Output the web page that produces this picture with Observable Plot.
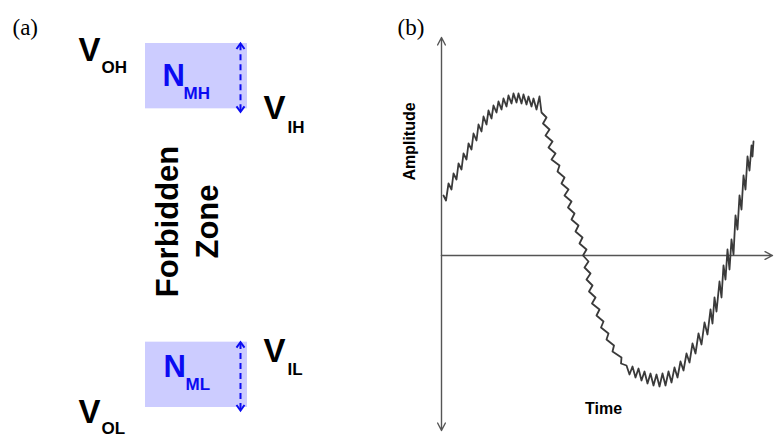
<!DOCTYPE html>
<html>
<head>
<meta charset="utf-8">
<script src="https://cdn.jsdelivr.net/npm/d3@7"></script>
<script src="https://cdn.jsdelivr.net/npm/@observablehq/plot@0.6"></script>
<style>
html, body { margin: 0; padding: 0; background: #fff; overflow: hidden; }
#fig { display: flex; width: 774px; height: 437px; }
#fig svg { display: block; flex: none; }
</style>
</head>
<body>
<div id="fig"></div>
<script>
// ---------- Panel (a): logic levels & noise margins ----------
const levelNames = ["VOH", "VIH", "VIL", "VOL"];
const levelVolts = [4.4, 3.7, 1.2, 0.5];
const levelSubscripts = ["OH", "IH", "IL", "OL"];
const marginNames = ["NMH", "NML"];
const marginSubscripts = ["MH", "ML"];
const zoneText = ["Forbidden", "Zone"];
const panelLabels = ["(a)", "(b)"];

// ---------- Panel (b): noisy sine wave, [time, amplitude] ----------
const noisySignal = [
  [2,60],[4.5,55],[7,72],[10,66],[12,82],[15,76],[17,92],[20,86],[22,102],[25,96],
  [27,112],[30,106],[32,122],[35,115],[37,131],[40,124],[42,139],[45,131],[47,145],[50,137],
  [52,150],[55,143],[57,154],[60,146],[62,157],[65,149],[67,160],[70,152],[72,162],[75,153],
  [77,162],[80,152],[82,161],[85,151],[87,159],[90,149],[92,157],[95,146],[98,159],[100,143],
  [105,138],[101.5,132],[108,126],[104,120],[111,114],[107,108],[114,102],[110,96],[118,90],[116,84],
  [123,78],[120,72],[127,66],[123,60],[130,54],[126.5,48],[133,42],[130,36],[137,30],[134,24],
  [141,18],[138,12],[145,6],[141.5,0],[147,-6],[143,-12],[149,-18],[145,-24],[151,-30],[147.5,-36],
  [154,-42],[150.5,-48],[158,-54],[155,-60],[162,-66],[159.5,-72],[167,-78],[165,-84],[172.5,-90],[171,-96],
  [180,-102],[179.5,-108],[185,-110],[188,-119],[191,-111],[194,-122],[197,-113],[200,-125],[203,-116],[206,-128],
  [209,-118],[212,-130],[215,-119],[218,-131],[221,-118],[224,-130],[227,-116],[230,-127],[233,-112],[236,-122],
  [239,-106],[242,-115],[245,-98],[248,-107],[251,-88],[254,-98],[257,-78],[260,-89],[263,-67],[266,-79],
  [269,-54],[271,-68],[273,-42],[275,-56],[278,-26],[280,-42],[282,-10],[284,-24],[286,6],[288,-14],
  [290,16],[292,1],[294,40],[296,26],[298,60],[300,46],[302,80],[304,66],[306,99],[308,85],
  [310,110],[311,99],[312,114]
];
const axisLabels = ["Time", "Amplitude"];
const timeDomain = [0, 333];
const ampDomain = [-175, 218];

// ---------- helpers ----------
const sans = "'Liberation Sans', Arial, Helvetica, sans-serif";
const serif = "'Liberation Serif', 'Times New Roman', serif";
const levelV = Object.fromEntries(levelNames.map((n, i) => [n, levelVolts[i]]));
const margins = marginNames.map((name, i) => ({
  name, sub: marginSubscripts[i],
  lo: i === 0 ? levelV.VIH : levelV.VOL,
  hi: i === 0 ? levelV.VOH : levelV.VIL
}));

// layout (pixel-column positions in panel a; not data)
const layoutA = {
  VOH: {x: 78, dy: 17, subX: 101, subDy: 29},
  VIH: {x: 263, dy: 10, subX: 287, subDy: 24},
  VIL: {x: 263, dy: 20, subX: 287, subDy: 33},
  VOL: {x: 78, dy: 15, subX: 101, subDy: 26}
};
const layoutN = {
  NMH: {level: "VOH", x: 162, dy: 42, subX: 183, subDy: 55},
  NML: {level: "VIL", x: 163, dy: 35, subX: 185, subDy: 48}
};

const blue = "#0b0bf2";
// open chevron arrowhead symbol, tip at the anchor point
const chevron = {
  draw(context) {
    context.moveTo(-4, 5.5);
    context.lineTo(0, 0);
    context.lineTo(4, 5.5);
  }
};

const levelMarks = levelNames.flatMap((n, i) => [
  Plot.text(["V"], {x: layoutA[n].x, y: levelVolts[i], dy: layoutA[n].dy, text: d => d,
    fontSize: 33, fontWeight: "bold", fontFamily: sans, textAnchor: "start", lineAnchor: "bottom", fill: "#000"}),
  Plot.text([levelSubscripts[i]], {x: layoutA[n].subX, y: levelVolts[i], dy: layoutA[n].subDy, text: d => d,
    fontSize: 17, fontWeight: "bold", fontFamily: sans, textAnchor: "start", lineAnchor: "bottom", fill: "#000"})
]);

const nMarks = margins.flatMap((m) => {
  const L = layoutN[m.name];
  return [
    Plot.text(["N"], {x: L.x, y: levelV[L.level], dy: L.dy, text: d => d,
      fontSize: 31, fontWeight: "bold", fontFamily: sans, textAnchor: "start", lineAnchor: "bottom", fill: blue}),
    Plot.text([m.sub], {x: L.subX, y: levelV[L.level], dy: L.subDy, text: d => d,
      fontSize: 17, fontWeight: "bold", fontFamily: sans, textAnchor: "start", lineAnchor: "bottom", fill: blue})
  ];
});

const plotA = Plot.plot({
  width: 390, height: 437,
  marginTop: 43, marginBottom: 30, marginLeft: 0, marginRight: 0,
  x: {domain: [0, 390], axis: null},
  y: {domain: [levelV.VOL, levelV.VOH], axis: null},
  marks: [
    Plot.rect(margins, {x1: 145, x2: 247, y1: "lo", y2: "hi", fill: "#ccccff"}),
    Plot.link(margins, {x1: 240, x2: 240, y1: "lo", y2: "hi", dy: 1.5, stroke: blue, strokeWidth: 2,
      strokeDasharray: "6,4"}),
    Plot.dot(margins, {x: 240, y: "hi", symbol: chevron, r: 4, fill: "none", stroke: blue, strokeWidth: 2}),
    Plot.dot(margins, {x: 240, y: "lo", dy: 3, symbol: chevron, rotate: 180, r: 4, fill: "none", stroke: blue, strokeWidth: 2}),
    ...levelMarks,
    ...nMarks,
    Plot.text([zoneText.join("\n")], {x: 217, y: (levelV.VIH + levelV.VIL) / 2, dy: -4, text: d => d,
      rotate: -90, textAnchor: "middle", lineAnchor: "bottom", lineHeight: 1.29,
      fontSize: 31, fontWeight: "bold", fontFamily: sans, fill: "#000"}),
    Plot.text([panelLabels[0]], {x: 12, y: levelV.VOH, dy: -9, text: d => d,
      fontSize: 23, fontFamily: serif, textAnchor: "start", lineAnchor: "bottom", fill: "#000"})
  ]
});

const signal = noisySignal.map(([t, a]) => ({t, a}));
const axisColor = "#555";

const plotB = Plot.plot({
  width: 384, height: 437,
  marginTop: 37, marginBottom: 7, marginLeft: 51, marginRight: 0,
  x: {domain: timeDomain, axis: null},
  y: {domain: ampDomain, axis: null},
  marks: [
    Plot.arrow([0], {x1: 0, y1: 0, x2: 0, y2: ampDomain[1], stroke: axisColor, strokeWidth: 1.4, headLength: 9, headAngle: 55}),
    Plot.arrow([0], {x1: 0, y1: 0, x2: 0, y2: ampDomain[0], stroke: axisColor, strokeWidth: 1.4, headLength: 9, headAngle: 55}),
    Plot.arrow([0], {x1: 0, y1: 0, x2: timeDomain[1] - 2, y2: 0, stroke: axisColor, strokeWidth: 1.4, headLength: 9, headAngle: 55}),
    Plot.line(signal, {x: "t", y: "a", stroke: "#3a3a3a", strokeWidth: 1.8, strokeLinejoin: "round"}),
    Plot.text([axisLabels[0]], {x: 162, y: -158, text: d => d, fontSize: 16, fontWeight: "bold",
      fontFamily: sans, textAnchor: "middle", lineAnchor: "bottom", fill: "#000"}),
    Plot.text([axisLabels[1]], {x: -27, y: 114, text: d => d, rotate: -90, fontSize: 16, fontWeight: "bold",
      fontFamily: sans, textAnchor: "middle", lineAnchor: "bottom", fill: "#000"}),
    Plot.text([panelLabels[1]], {x: -44, y: 221, text: d => d, fontSize: 23, fontFamily: serif,
      textAnchor: "start", lineAnchor: "bottom", fill: "#000"})
  ]
});

document.getElementById("fig").append(plotA, plotB);
</script>
</body>
</html>
